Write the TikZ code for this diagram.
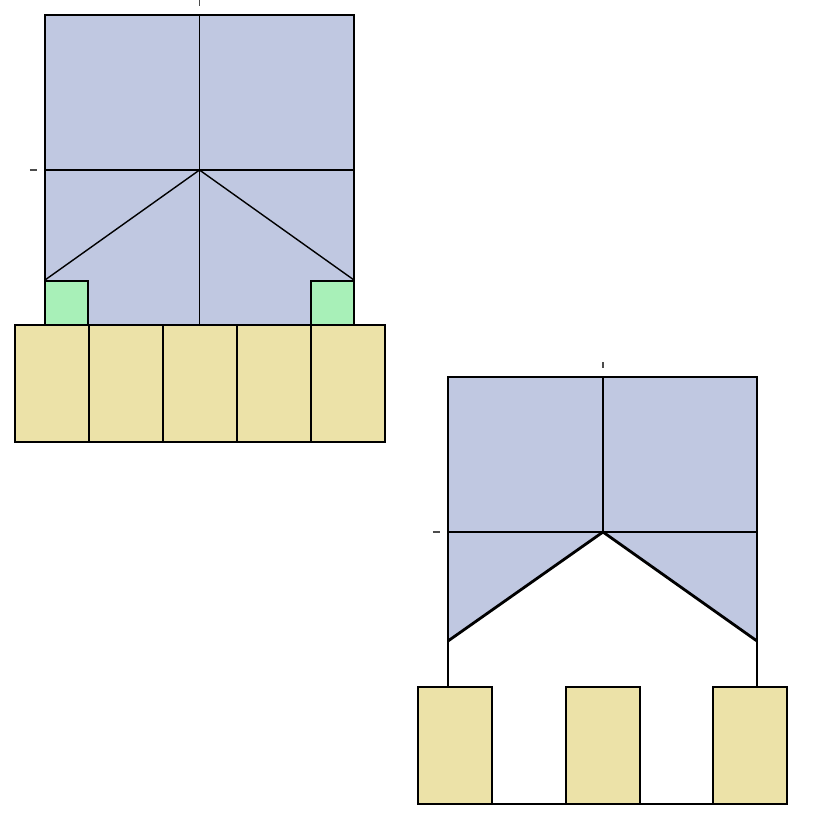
\documentclass[tikz,border=0pt]{standalone}
\usepackage{tikz}
\definecolor{roofblue}{RGB}{192,200,225}
\definecolor{wallyellow}{RGB}{236,226,168}
\definecolor{cornergreen}{RGB}{168,240,184}

\begin{document}
\begin{tikzpicture}[
    x=0.01cm,y=-0.01cm,
    edge/.style={draw=black,line width=0.4pt},
    block/.style={fill=wallyellow,draw=black,line width=0.6pt},
    corner/.style={fill=cornergreen,draw=black,line width=0.4pt},
    ridge/.style={draw=black,line width=0.8pt},
    tick/.style={draw=black!70,line width=0.4pt}
]
  \useasboundingbox (0,0) rectangle (820,820);

  % left: full roof over five blocks
  \fill[roofblue] (45,15) rectangle (354,325);
  \draw[edge] (45,15) rectangle (354,325);
  \draw[edge] (199.5,15) -- (199.5,325);
  \draw[edge] (45,170) -- (354,170);
  \draw[edge] (45,280) -- (199.5,170) -- (354,280);
  \draw[corner] (45,281) rectangle (88,325);
  \draw[corner] (311,281) rectangle (354,325);
  \foreach \x in {15,89,163,237,311} {
    \draw[block] (\x,325) rectangle ++(73.8,117);
  }
  \draw[tick] (199.5,0) -- (199.5,6);
  \draw[tick] (30,170) -- (37,170);

  % right: cut roof over three blocks
  \fill[roofblue] (448,377) -- (757,377) -- (757,641) -- (603,532) -- (448,641) -- cycle;
  \draw[edge] (448,687) -- (448,377) -- (757,377) -- (757,687);
  \draw[edge] (603,377) -- (603,532);
  \draw[edge] (448,532) -- (757,532);
  \draw[ridge] (448,641) -- (603,532) -- (757,641);
  \foreach \x in {418,566,713} {
    \draw[block] (\x,687) rectangle ++(74,117);
  }
  \draw[ridge] (492,804) -- (566,804);
  \draw[ridge] (640,804) -- (713,804);
  \draw[tick] (603,362) -- (603,368);
  \draw[tick] (433,532) -- (440,532);
\end{tikzpicture}
\end{document}
